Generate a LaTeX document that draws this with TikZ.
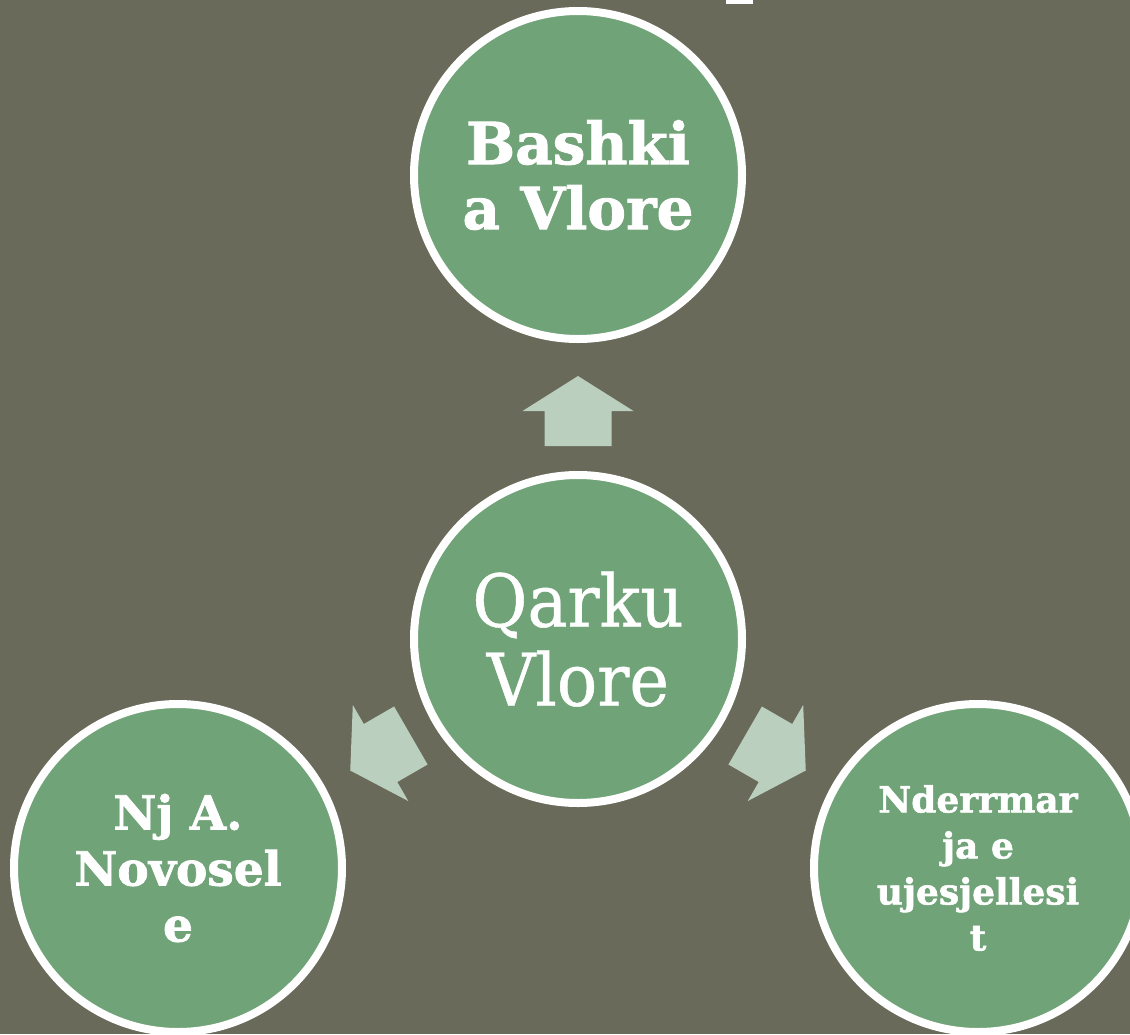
\documentclass[tikz,border=0pt]{standalone}
\usepackage{fontspec}
\newfontfamily\labfont[BoldFeatures={FakeBold=1.5}]{DejaVu Serif}
\newfontfamily\qfont[FakeStretch=0.92,FakeBold=0.6]{DejaVu Serif}
\definecolor{bgolive}{RGB}{105,106,90}
\definecolor{discgreen}{RGB}{112,163,119}
\definecolor{arrowgreen}{RGB}{186,207,190}
\begin{document}
\begin{tikzpicture}[x=1pt,y=1pt,
  disc/.style={circle, fill=discgreen, draw=white, line width=8pt,
    minimum size=328pt, inner sep=0pt, text=white, align=center},
  blockarrow/.style={fill=arrowgreen, draw=none}]
\fill[bgolive] (0,0) rectangle (1130,-1034);
\useasboundingbox (0,0) rectangle (1130,-1034);
% fragment of cut-off heading
\fill[white] (726,0) rectangle (753,-4);
% centre
\node[disc, font=\qfont\fontsize{73}{79}\selectfont] (qv) at (578,-639) {Qarku\\Vlore};
% satellites
\node[disc, font=\labfont\bfseries\fontsize{58}{65}\selectfont] (bv) at (578,-175) {Bashki\\a Vlore};
\node[disc, font=\labfont\bfseries\fontsize{47}{56}\selectfont] (nj) at (178,-868) {Nj A.\\Novosel\\e};
\node[disc, font=\labfont\bfseries\fontsize{36}{46}\selectfont] (nu) at (978,-868) {Nderrmar\\ja e\\ujesjellesi\\t};
% block arrows
\foreach \a in {90,210,330}{
  \begin{scope}[shift={(qv.center)}, rotate=\a-90]
    \fill[blockarrow] (-33.5,193) -- (33.5,193) -- (33.5,228) -- (55.5,228)
      -- (0,263) -- (-55.5,228) -- (-33.5,228) -- cycle;
  \end{scope}
}
\end{tikzpicture}
\end{document}
